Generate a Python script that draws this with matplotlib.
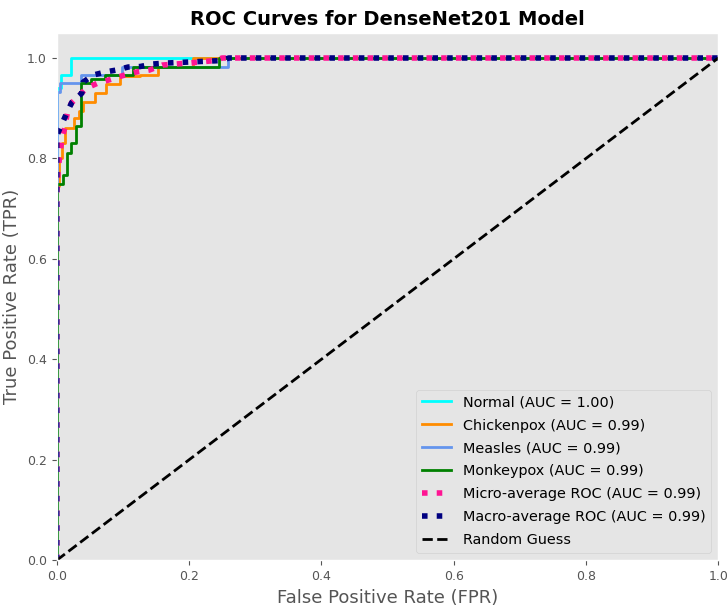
import numpy as np
import matplotlib
matplotlib.use("Agg")
import matplotlib.pyplot as plt

plt.style.use("ggplot")

# per-class ROC curves
normal_fpr = [0, 0, 0.006, 0.006, 0.021, 0.021, 1]
normal_tpr = [0, 0.94, 0.94, 0.967, 0.967, 1.0, 1.0]

chick_fpr = [0, 0, 0.004, 0.004, 0.008, 0.008, 0.012, 0.012, 0.026, 0.026, 0.034, 0.034,
             0.04, 0.04, 0.058, 0.058, 0.074, 0.074, 0.096, 0.096, 0.126, 0.126,
             0.153, 0.153, 0.206, 0.206, 1]
chick_tpr = [0, 0.745, 0.745, 0.80, 0.80, 0.83, 0.83, 0.86, 0.86, 0.88, 0.88, 0.895,
             0.895, 0.913, 0.913, 0.93, 0.93, 0.948, 0.948, 0.965, 0.965, 0.966,
             0.966, 0.983, 0.983, 1.0, 1.0]

measles_fpr = [0, 0, 0.005, 0.005, 0.037, 0.037, 0.099, 0.099, 0.259, 0.259, 1]
measles_tpr = [0, 0.932, 0.932, 0.95, 0.95, 0.967, 0.967, 0.983, 0.983, 1.0, 1.0]

monkey_fpr = [0, 0, 0.009, 0.009, 0.015, 0.015, 0.022, 0.022, 0.029, 0.029, 0.037, 0.037,
              0.052, 0.052, 0.073, 0.073, 0.115, 0.115, 0.245, 0.245, 1]
monkey_tpr = [0, 0.75, 0.75, 0.767, 0.767, 0.81, 0.81, 0.83, 0.83, 0.865, 0.865, 0.95,
              0.95, 0.958, 0.958, 0.966, 0.966, 0.983, 0.983, 1.0, 1.0]

micro_fpr = [0, 0, 0.002, 0.004, 0.008, 0.012, 0.016, 0.022, 0.045, 0.062, 0.078, 0.1,
             0.12, 0.14, 0.16, 0.2, 0.24, 0.25, 1]
micro_tpr = [0, 0.73, 0.77, 0.80, 0.84, 0.86, 0.89, 0.91, 0.94, 0.95, 0.956, 0.965,
             0.972, 0.976, 0.986, 0.99, 0.995, 1.0, 1.0]

macro_fpr = [0, 0, 0.015, 0.023, 0.038, 0.04, 0.055, 0.073, 0.09, 0.108, 0.126, 0.145,
             0.166, 0.2, 0.25, 0.26, 1]
macro_tpr = [0, 0.845, 0.89, 0.912, 0.93, 0.952, 0.966, 0.972, 0.976, 0.982, 0.983,
             0.988, 0.99, 0.992, 0.995, 1.0, 1.0]

classes = ["Normal", "Chickenpox", "Measles", "Monkeypox"]
class_auc = [1.00, 0.99, 0.99, 0.99]
class_colors = ["cyan", "darkorange", "cornflowerblue", "green"]
micro_auc = 0.99
macro_auc = 0.99

fig = plt.figure(figsize=(7.27, 6.09), dpi=100)
ax = fig.add_subplot(111)
fig.subplots_adjust(left=0.078, right=0.988, bottom=0.080, top=0.946)

curves = [(normal_fpr, normal_tpr), (chick_fpr, chick_tpr),
          (measles_fpr, measles_tpr), (monkey_fpr, monkey_tpr)]
for (f, t), name, a, c in zip(curves, classes, class_auc, class_colors):
    ax.plot(f, t, color=c, lw=2, label=f"{name} (AUC = {a:.2f})")

ax.plot(micro_fpr, micro_tpr, color="deeppink", linestyle=":", lw=4,
        label=f"Micro-average ROC (AUC = {micro_auc:.2f})")
ax.plot(macro_fpr, macro_tpr, color="navy", linestyle=":", lw=4,
        label=f"Macro-average ROC (AUC = {macro_auc:.2f})")
ax.plot([0, 1], [0, 1], "k--", lw=2, label="Random Guess")

ax.set_xlim(0.0, 1.0)
ax.set_ylim(0.0, 1.05)
ax.grid(False)
ax.set_xlabel("False Positive Rate (FPR)", fontsize=13)
ax.set_ylabel("True Positive Rate (TPR)", fontsize=13)
ax.set_title("ROC Curves for DenseNet201 Model", fontsize=14, fontweight="bold")
ax.tick_params(labelsize=9)
ax.legend(loc="lower right", fontsize=10.4, labelspacing=0.62)

plt.savefig("out.png", dpi=100)
